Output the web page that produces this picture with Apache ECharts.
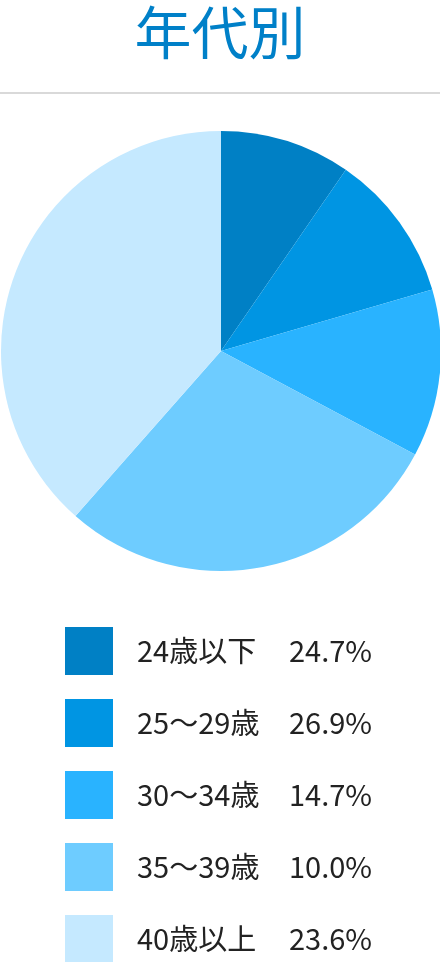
<!DOCTYPE html>
<html><head><meta charset="utf-8">
<script src="https://cdn.jsdelivr.net/npm/echarts@6/dist/echarts.min.js"></script>
<style>html,body{margin:0;padding:0;background:#fff}#c{width:440px;height:962px}</style>
</head><body><div id="c"></div>
<script>
const titleText = '年代別';
const categories = ['24歳以下', '25〜29歳', '30〜34歳', '35〜39歳', '40歳以上'];
const sliceValues = [9.6, 10.9, 12.3, 28.7, 38.5];
const legendPercents = ['24.7%', '26.9%', '14.7%', '10.0%', '23.6%'];
const colors = ['#0080C5', '#0095E3', '#29B3FF', '#6ECCFF', '#C5E9FF'];

const chart = echarts.init(document.getElementById('c'), null, {renderer: 'canvas'});
const pctMap = {};
categories.forEach((c, i) => pctMap[c] = legendPercents[i]);
const font = '"Noto Sans CJK JP", "Noto Sans", sans-serif';

chart.setOption({
  animation: false,
  backgroundColor: '#fff',
  color: colors,
  graphic: [
    {type: 'text', x: 220, y: 32, style: {text: titleText, fill: '#0080C8', font: '57px ' + font, textAlign: 'center', textVerticalAlign: 'middle'}},
    {type: 'line', shape: {x1: 0, y1: 93, x2: 440, y2: 93}, style: {stroke: '#D9D9D9', lineWidth: 2}}
  ],
  legend: {
    orient: 'vertical', left: 65, top: 627, height: 400, padding: 0,
    itemWidth: 48, itemHeight: 48, itemGap: 24,
    icon: 'rect', selectedMode: false,
    data: categories,
    formatter: name => '{a|' + name + '}{b|' + pctMap[name] + '}',
    textStyle: {
      padding: [0, 0, 0, 19],
      rich: {
        a: {fontSize: 29, fontFamily: font, color: '#222', width: 152},
        b: {fontSize: 29, fontFamily: font, color: '#222'}
      }
    }
  },
  series: [{
    type: 'pie', center: [221, 351], radius: 220, startAngle: 90, clockwise: true,
    silent: true, label: {show: false}, labelLine: {show: false},
    emphasis: {disabled: true},
    data: categories.map((c, i) => ({name: c, value: sliceValues[i]}))
  }]
});
</script></body></html>
